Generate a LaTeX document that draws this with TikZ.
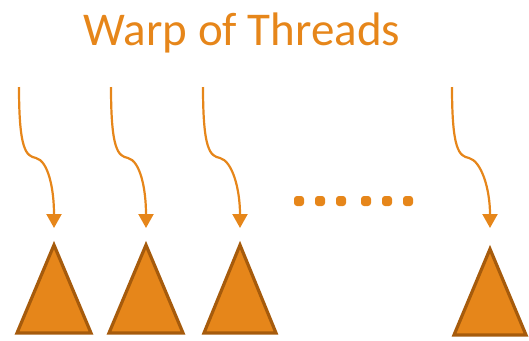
\documentclass[tikz,border=0pt]{standalone}
\usepackage{fontspec}
\setmainfont{Carlito}
\usetikzlibrary{arrows.meta}
\definecolor{warpfill}{HTML}{E6861A}
\definecolor{warpline}{HTML}{A65B0C}
\tikzset{
	thread/.style={draw=warpfill,line width=2.2pt,-{Triangle[width=15pt,length=14pt]}},
	core/.style={fill=warpfill,draw=warpline,line width=3.2pt},
	dot/.style={fill=warpfill,rounded corners=3pt}
}
\begin{document}
\begin{tikzpicture}[x=1pt,y=-1pt]
	\useasboundingbox (0,0) rectangle (529,340);
	\node[text=warpfill,font=\fontsize{47}{50}\selectfont,anchor=base] (title) at (242,45) {Warp of Threads};
	
	\coordinate (s1) at (19,87);
	\coordinate (s2) at (111,87);
	\coordinate (s3) at (203,87);
	\coordinate (s4) at (452,87);
	
	\coordinate (t1) at (54,245);
	\coordinate (t2) at (146,245);
	\coordinate (t3) at (240,245);
	\coordinate (t4) at (490,249);
	
	\draw[core] (t1) -- ++(-37,88) -- ++(74,0) -- cycle;
	\draw[core] (t2) -- ++(-37,88) -- ++(74,0) -- cycle;
	\draw[core] (t3) -- ++(-36,88) -- ++(72,0) -- cycle;
	\draw[core] (t4) -- ++(-36,86) -- ++(72,0) -- cycle;
	
	\draw[thread] (s1) .. controls ++(0,63) and ++(-10,-2) .. ++(17,71) .. controls ++(12,3) and ++(0,-40) .. ([yshift=17pt]t1);
	\draw[thread] (s2) .. controls ++(0,63) and ++(-10,-2) .. ++(17,71) .. controls ++(12,3) and ++(0,-40) .. ([yshift=17pt]t2);
	\draw[thread] (s3) .. controls ++(0,63) and ++(-10,-2) .. ++(17,71) .. controls ++(12,3) and ++(0,-40) .. ([yshift=17pt]t3);
	\draw[thread] (s4) .. controls ++(0,63) and ++(-10,-2) .. ++(17,71) .. controls ++(12,3) and ++(0,-40) .. ([yshift=21pt]t4);
	
	\foreach \x in {299,320,341,366,387,408}
		\fill[dot] (\x-5,196) rectangle (\x+5,206);
	
\end{tikzpicture}
\end{document}
